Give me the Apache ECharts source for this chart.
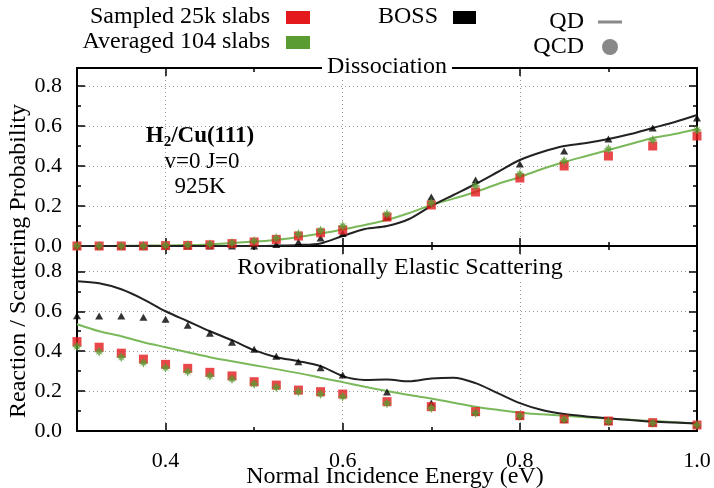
<!DOCTYPE html>
<html>
<head>
<meta charset="utf-8">
<script src="https://cdn.jsdelivr.net/npm/echarts@6/dist/echarts.min.js"></script>
<style>
  html, body { margin: 0; background: #fff; }
  #chart { width: 714px; height: 488px; }
</style>
</head>
<body>
<div id="chart"></div>
<script>
// energies where the QCD points were computed
const energyPts = [0.3, 0.325, 0.35, 0.375, 0.4, 0.425, 0.45, 0.475, 0.5, 0.525, 0.55, 0.575, 0.6,
  0.65, 0.7, 0.75, 0.8, 0.85, 0.9, 0.95, 1.0];
// energies for the QD curves
const energyCurve = [0.3, 0.325, 0.35, 0.375, 0.4, 0.425, 0.45, 0.475, 0.5, 0.525, 0.55, 0.575, 0.6,
  0.625, 0.65, 0.675, 0.7, 0.725, 0.75, 0.775, 0.8, 0.825, 0.85, 0.875, 0.9, 0.925, 0.95, 0.975, 1.0];

// Dissociation
const dissSampled = [0, 0, 0, 0, 0.002, 0.003, 0.006, 0.012, 0.02, 0.033, 0.05, 0.066, 0.08,
  0.145, 0.205, 0.27, 0.34, 0.40, 0.45, 0.50, 0.55];
const dissAveraged = [0, 0, 0, 0, 0.003, 0.005, 0.009, 0.015, 0.025, 0.04, 0.06, 0.078, 0.10,
  0.16, 0.215, 0.30, 0.36, 0.425, 0.485, 0.53, 0.58];
const dissBossQcd = [0, 0, 0, 0, 0, 0, 0, 0, 0, 0.008, 0.02, 0.04, 0.063,
  0.145, 0.245, 0.33, 0.41, 0.475, 0.535, 0.59, 0.64];
const dissBossQd = [0, 0, 0, 0, 0, 0, 0, 0, 0, 0.002, 0.005, 0.013, 0.05,
  0.085, 0.10, 0.135, 0.20, 0.255, 0.31, 0.37, 0.43, 0.47, 0.50, 0.515, 0.535, 0.56, 0.59, 0.62, 0.655];
const dissAveragedQd = [0, 0, 0.001, 0.002, 0.003, 0.005, 0.008, 0.015, 0.022, 0.03, 0.045, 0.062, 0.083,
  0.105, 0.13, 0.165, 0.205, 0.237, 0.27, 0.31, 0.345, 0.385, 0.42, 0.45, 0.48, 0.51, 0.54, 0.56, 0.585];

// Rovibrationally elastic scattering
const scatSampled = [0.448, 0.42, 0.39, 0.36, 0.334, 0.314, 0.294, 0.276, 0.247, 0.23, 0.205, 0.197, 0.185,
  0.147, 0.122, 0.097, 0.077, 0.06, 0.05, 0.042, 0.03];
const scatAveraged = [0.423, 0.397, 0.37, 0.342, 0.317, 0.297, 0.276, 0.26, 0.236, 0.219, 0.197, 0.185, 0.172,
  0.138, 0.115, 0.09, 0.075, 0.058, 0.048, 0.04, 0.03];
const scatBossQcd = [0.578, 0.576, 0.576, 0.57, 0.56, 0.53, 0.49, 0.445, 0.41, 0.375, 0.347, 0.317, 0.28,
  0.195, 0.14, 0.095, 0.075, 0.058, 0.048, 0.04, 0.032];
const scatBossQd = [0.75, 0.74, 0.71, 0.66, 0.60, 0.55, 0.50, 0.455, 0.405, 0.37, 0.35, 0.325, 0.275,
  0.256, 0.258, 0.249, 0.263, 0.267, 0.24, 0.19, 0.14, 0.105, 0.085, 0.073, 0.064, 0.055, 0.047, 0.042, 0.038];
const scatAveragedQd = [0.535, 0.50, 0.475, 0.445, 0.42, 0.395, 0.37, 0.35, 0.33, 0.31, 0.29, 0.267, 0.245,
  0.222, 0.20, 0.18, 0.163, 0.142, 0.122, 0.106, 0.092, 0.084, 0.077, 0.069, 0.062, 0.056, 0.05, 0.044, 0.038];

// ticks
const xMajor = [0.4, 0.6, 0.8, 1.0];
const xMinor = [0.5, 0.7, 0.9];
const yMajor = [0, 0.2, 0.4, 0.6, 0.8];
const yMinor = [0.1, 0.3, 0.5, 0.7];

const FONT = 'Liberation Serif';
const RED = '#e3191c';
const GREEN = '#5a9b32';
const GREEN_LINE = '#7ab85a';
const STAR = 'path://M0,-10L2.6,-4.2L7,-7L4.2,-2.6L10,0L4.2,2.6L7,7L2.6,4.2L0,10L-2.6,4.2L-7,7L-4.2,2.6L-10,0L-4.2,-2.6L-7,-7L-2.6,-4.2Z';

const pairs = (xs, ys) => xs.map((x, i) => [x, ys[i]]);

// 4 axes per side: main + minor ticks, and mirrored ones on the other side
function axisSet(gridIndex, dim, min, max, major, minor, showLabels) {
  const sides = dim === 'x' ? ['bottom', 'top'] : ['left', 'right'];
  const out = [];
  sides.forEach((side, k) => {
    [major, minor].forEach((vals, m) => {
      out.push({
        type: 'value',
        gridIndex: gridIndex,
        position: side,
        min: min,
        max: max,
        axisLine: { show: m === 0, onZero: false, lineStyle: { color: '#000', width: 2 } },
        axisTick: {
          show: true,
          inside: true,
          length: m === 0 ? 8 : 4,
          customValues: vals,
          lineStyle: { color: '#000', width: 1.5 },
        },
        axisLabel: {
          show: showLabels && k === 0 && m === 0,
          customValues: vals,
          formatter: (v) => v.toFixed(1),
          fontFamily: FONT,
          fontSize: 22,
          color: '#000',
          margin: dim === 'x' ? 19 : 15,
        },
        splitLine: {
          show: k === 0 && m === 0,
          lineStyle: { color: '#9a9a9a', type: [1, 3], width: 1 },
        },
      });
    });
  });
  return out;
}

const xAxes = [].concat(
  axisSet(0, 'x', 0.3, 1.0, xMajor, xMinor, false),
  axisSet(1, 'x', 0.3, 1.0, xMajor, xMinor, true)
);
const yAxes = [].concat(
  axisSet(0, 'y', 0, 0.89, yMajor, yMinor, true),
  axisSet(1, 'y', 0, 0.927, yMajor, yMinor, true)
);

function panelSeries(g, sampled, averaged, bossQcd, bossQd, averagedQd) {
  const ax = { xAxisIndex: g * 4, yAxisIndex: g * 4 };
  return [
    Object.assign({
      type: 'line', data: pairs(energyCurve, averagedQd), smooth: 0.3, showSymbol: false,
      lineStyle: { color: GREEN_LINE, width: 2 }, z: 2,
    }, ax),
    Object.assign({
      type: 'line', data: pairs(energyCurve, bossQd), smooth: 0.3, showSymbol: false,
      lineStyle: { color: '#222', width: 2 }, z: 2,
    }, ax),
    Object.assign({
      type: 'scatter', data: pairs(energyPts, bossQcd), symbol: 'triangle', symbolSize: [8, 7],
      itemStyle: { color: '#000' }, z: 3,
    }, ax),
    Object.assign({
      type: 'scatter', data: pairs(energyPts, sampled), symbol: 'rect', symbolSize: 9,
      itemStyle: { color: RED }, z: 4,
    }, ax),
    Object.assign({
      type: 'scatter', data: pairs(energyPts, averaged), symbol: STAR, symbolSize: 10,
      itemStyle: { color: GREEN }, z: 5,
    }, ax),
  ];
}

const txt = (x, y, text, align, extra) => ({
  type: 'text', x: x, y: y, z: 100,
  style: Object.assign({
    text: text, fontFamily: FONT, fontSize: 24, fill: '#000',
    align: align || 'center', verticalAlign: 'middle',
  }, extra || {}),
});

const graphic = [
  // legend
  txt(270, 17, 'Sampled 25k slabs', 'right'),
  { type: 'rect', shape: { x: 286, y: 11, width: 24, height: 13 }, style: { fill: RED }, z: 100 },
  txt(270, 42, 'Averaged 104 slabs', 'right'),
  { type: 'rect', shape: { x: 286, y: 36, width: 24, height: 13 }, style: { fill: GREEN }, z: 100 },
  txt(438, 17, 'BOSS', 'right'),
  { type: 'rect', shape: { x: 453, y: 11, width: 23, height: 13 }, style: { fill: '#000' }, z: 100 },
  txt(584, 22, 'QD', 'right'),
  { type: 'line', shape: { x1: 598, y1: 22, x2: 622, y2: 22 }, style: { stroke: '#888', lineWidth: 3 }, z: 100 },
  txt(584, 47, 'QCD', 'right'),
  { type: 'circle', shape: { cx: 610, cy: 47, r: 8 }, style: { fill: '#888' }, z: 100 },
  // panel titles
  txt(387, 67, 'Dissociation', 'center', { backgroundColor: '#fff', padding: [0, 5] }),
  txt(400, 268, 'Rovibrationally Elastic Scattering', 'center', { backgroundColor: '#fff', padding: [0, 5] }),
  // system annotation
  {
    type: 'text', x: 200, y: 136, z: 100,
    style: {
      text: '{b|H}{s|2}{b|/Cu(111)}', align: 'center', verticalAlign: 'middle',
      rich: {
        b: { fontFamily: FONT, fontSize: 23, fontWeight: 'bold', fill: '#000' },
        s: { fontFamily: FONT, fontSize: 15, fontWeight: 'bold', fill: '#000', padding: [12, 0, 0, 0] },
      },
    },
  },
  txt(202, 162, 'v=0 J=0', 'center', { fontSize: 23 }),
  txt(200, 187, '925K', 'center', { fontSize: 23 }),
  // axis titles
  txt(395, 477, 'Normal Incidence Energy (eV)', 'center'),
  Object.assign(txt(19, 261, 'Reaction / Scattering Probability', 'center'), { rotation: Math.PI / 2 }),
];

const chart = echarts.init(document.getElementById('chart'), null, { renderer: 'canvas' });
chart.setOption({
  animation: false,
  backgroundColor: '#fff',
  grid: [
    { left: 77, right: 17, top: 68, height: 178 },
    { left: 77, right: 17, top: 246, height: 185 },
  ],
  xAxis: xAxes,
  yAxis: yAxes,
  series: [].concat(
    panelSeries(0, dissSampled, dissAveraged, dissBossQcd, dissBossQd, dissAveragedQd),
    panelSeries(1, scatSampled, scatAveraged, scatBossQcd, scatBossQd, scatAveragedQd)
  ),
  graphic: graphic,
});
</script>
</body>
</html>
